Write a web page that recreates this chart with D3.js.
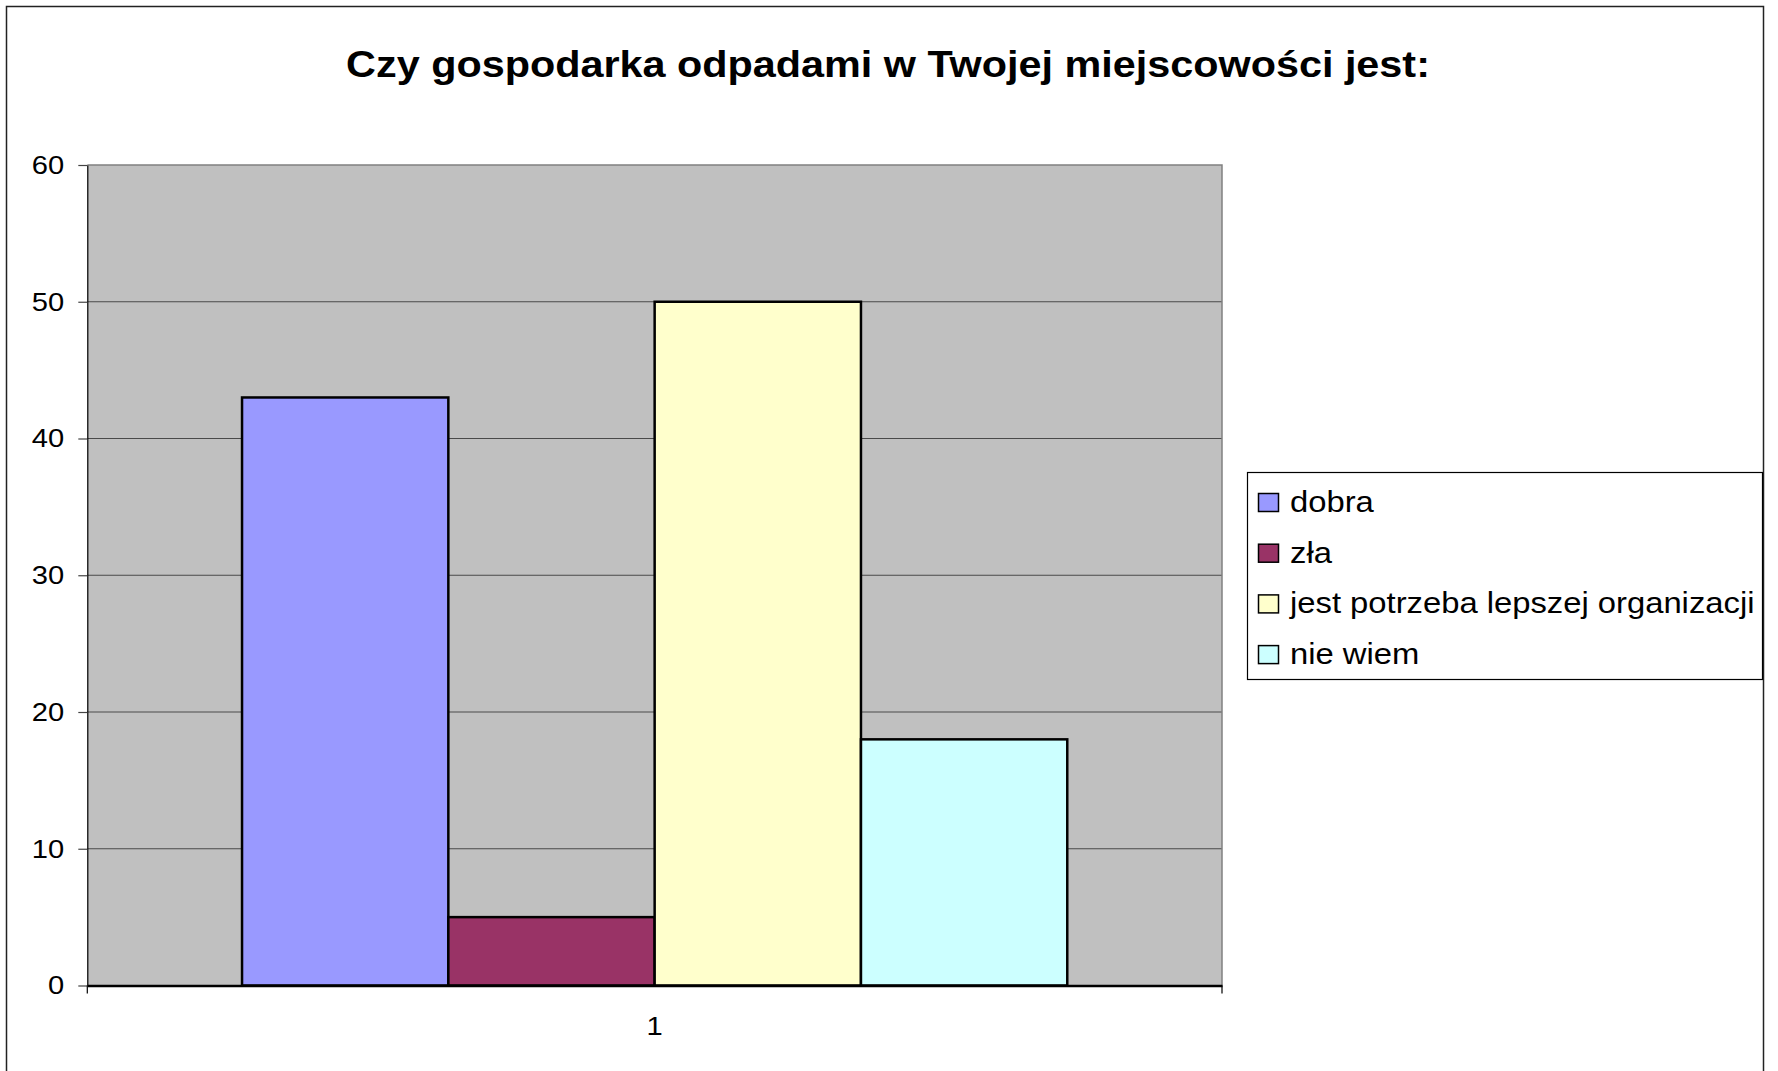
<!DOCTYPE html>
<html>
<head>
<meta charset="utf-8">
<script src="https://cdn.jsdelivr.net/npm/d3@7"></script>
<style>
  body { margin: 0; background: #fff; }
  svg text { font-family: "Liberation Sans", Arial, sans-serif; fill: #000; }
</style>
</head>
<body>
<div id="chart"></div>
<script>
// values
const categories = ["1"];
const seriesNames = ["dobra", "zła", "jest potrzeba lepszej organizacji", "nie wiem"];
const seriesValues = [43, 5, 50, 18];
const seriesColors = ["#9999ff", "#993366", "#ffffcc", "#ccffff"];
const yTicks = [0, 10, 20, 30, 40, 50, 60];
const chartTitle = "Czy gospodarka odpadami w Twojej miejscowości jest:";

// the original text is a bit wider than Arial, stretch it sideways
const sx = 1.1;

const totalWidth = 1778, totalHeight = 1071;
const margin = { top: 165, right: 556, bottom: 85.5, left: 87.3 },
    width = totalWidth - margin.left - margin.right,
    height = totalHeight - margin.top - margin.bottom;

const root = d3.select("#chart")
    .append("svg")
    .attr("width", totalWidth)
    .attr("height", totalHeight);

// outer frame (bottom edge runs off the picture)
root.append("rect")
    .attr("x", 6.5).attr("y", 6.5)
    .attr("width", 1757).attr("height", 1080)
    .attr("fill", "#fff")
    .attr("stroke", "#222")
    .attr("stroke-width", 1.5);

// title
root.append("text")
    .attr("transform", `translate(888,77) scale(${sx},1)`)
    .attr("text-anchor", "middle")
    .style("font-size", "37.6px")
    .style("font-weight", "bold")
    .text(chartTitle);

const svg = root.append("g")
    .attr("transform", `translate(${margin.left},${margin.top})`);

// scales
const x0 = d3.scaleBand()
    .domain(categories)
    .range([0, width]);

const x1 = d3.scaleBand()
    .domain(seriesNames)
    .range([0, x0.bandwidth()])
    .paddingOuter(0.75);

const y = d3.scaleLinear()
    .domain([0, 60])
    .range([height, 0]);

// plot background
svg.append("rect")
    .attr("x", 0).attr("y", 0)
    .attr("width", width).attr("height", height)
    .attr("fill", "#c0c0c0");

// grid lines
svg.append("g")
    .selectAll("line")
    .data(yTicks.filter(d => d > 0 && d < 60))
    .join("line")
    .attr("x1", 0).attr("x2", width)
    .attr("y1", d => y(d)).attr("y2", d => y(d))
    .attr("stroke", "#4a4a4a")
    .attr("stroke-width", 1.2);

// top and right edge of plot area
svg.append("path")
    .attr("d", `M0,${y(60)}H${width}V${height}`)
    .attr("fill", "none")
    .attr("stroke", "#808080")
    .attr("stroke-width", 1.5);

// bars
const cat = categories[0];
svg.append("g")
    .selectAll("rect")
    .data(seriesNames)
    .join("rect")
    .attr("x", d => x0(cat) + x1(d))
    .attr("y", (d, i) => y(seriesValues[i]))
    .attr("width", x1.bandwidth())
    .attr("height", (d, i) => height - y(seriesValues[i]))
    .attr("fill", (d, i) => seriesColors[i])
    .attr("stroke", "#000")
    .attr("stroke-width", 2.5);

// y axis
const yAxis = svg.append("g")
    .call(d3.axisLeft(y).tickValues(yTicks).tickSize(9).tickSizeOuter(0).tickPadding(12));
yAxis.select(".domain").attr("stroke", "#000").attr("stroke-width", 1.2);
yAxis.selectAll(".tick line").attr("stroke", "#444").attr("stroke-width", 1.2);
yAxis.selectAll(".tick text")
    .attr("transform", `scale(${sx},1)`)
    .style("font-size", "26.5px");

// x axis
const xAxis = svg.append("g")
    .attr("transform", `translate(0,${height})`)
    .call(d3.axisBottom(x0).tickSize(0).tickPadding(31));
xAxis.select(".domain").attr("stroke", "#000").attr("stroke-width", 2.5);
xAxis.selectAll(".tick text")
    .attr("transform", `scale(${sx},1)`)
    .style("font-size", "26.5px");

// x ticks at the category edges
xAxis.append("g")
    .selectAll("line")
    .data([x0(cat), x0(cat) + x0.bandwidth()])
    .join("line")
    .attr("x1", d => d).attr("x2", d => d)
    .attr("y1", 0).attr("y2", 8)
    .attr("stroke", "#000")
    .attr("stroke-width", 1.2);

// legend
const legend = root.append("g")
    .attr("transform", "translate(1247.5,472.5)");

legend.append("rect")
    .attr("width", 515).attr("height", 207)
    .attr("fill", "#fff")
    .attr("stroke", "#000")
    .attr("stroke-width", 1.2);

const item = legend.selectAll(".item")
    .data(seriesNames)
    .join("g")
    .attr("class", "item")
    .attr("transform", (d, i) => `translate(0,${30 + i * 50.7})`);

item.append("rect")
    .attr("x", 11).attr("y", -9)
    .attr("width", 20).attr("height", 18)
    .attr("fill", (d, i) => seriesColors[i])
    .attr("stroke", "#000")
    .attr("stroke-width", 1.5);

item.append("text")
    .attr("transform", `translate(42.5,9.5) scale(${sx},1)`)
    .style("font-size", "29.8px")
    .text(d => d);
</script>
</body>
</html>
